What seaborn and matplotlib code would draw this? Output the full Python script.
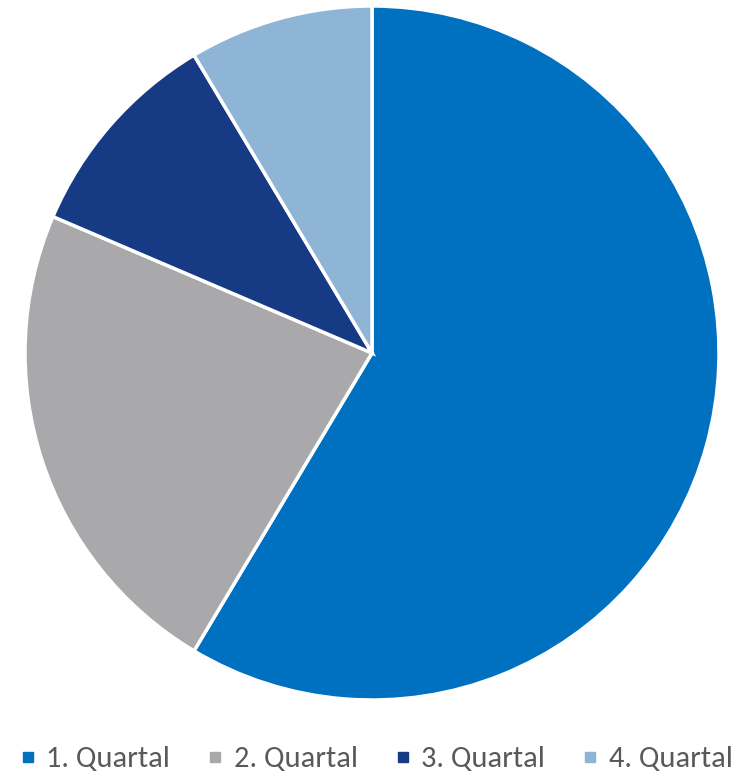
import matplotlib
matplotlib.use("Agg")
import matplotlib.pyplot as plt
from matplotlib.lines import Line2D
import seaborn as sns

categories = ["1. Quartal", "2. Quartal", "3. Quartal", "4. Quartal"]
values = [8.2, 3.2, 1.4, 1.2]
colors = ["#0070C0", "#A9A9AB", "#163A84", "#8EB4D6"]

sns.set_theme(style="white")
plt.rcParams['font.family'] = ['Carlito', 'DejaVu Sans']

W, H = 751, 777
fig = plt.figure(figsize=(W / 100, H / 100), dpi=100)
cx, cy, r = 372, 353, 347
ax = fig.add_axes([(cx - r) / W, (H - cy - r) / H, 2 * r / W, 2 * r / H])
ax.pie(values, colors=colors, startangle=90, counterclock=False, radius=1,
       wedgeprops=dict(edgecolor="white", linewidth=2.5))
ax.set_xlim(-1, 1)
ax.set_ylim(-1, 1)
ax.set_aspect("equal")
ax.axis("off")

handles = [Line2D([0], [0], marker="s", linestyle="none", markersize=7,
                  markerfacecolor=c, markeredgecolor=c) for c in colors]
fig.legend(handles, categories, loc="center", bbox_to_anchor=(0.5, 18 / H),
           ncol=4, frameon=False, fontsize=22, labelcolor="#595959",
           handletextpad=0.3, columnspacing=1.18, handlelength=0.6,
           borderpad=0, borderaxespad=0)

fig.savefig("out.png", dpi=100)
